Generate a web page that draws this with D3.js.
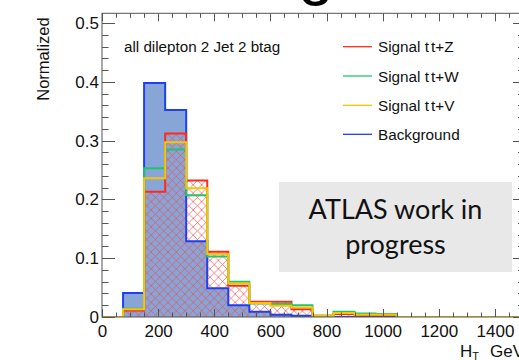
<!DOCTYPE html>
<html>
<head>
<meta charset="utf-8">
<script src="https://cdn.jsdelivr.net/npm/d3@7"></script>
<style>
  html, body { margin: 0; padding: 0; background: #ffffff; }
  svg { display: block; }
</style>
</head>
<body>
<svg id="chart" width="519" height="360"></svg>
<script>
// ---- data ----
const binLows = [0, 75, 150, 225, 300, 375, 450, 525, 600, 675, 750, 825, 900, 975, 1050, 1125, 1200, 1275, 1350, 1425];
const binWidth = 75;
const background = [0, 0.041, 0.398, 0.352, 0.129, 0.049, 0.020, 0.009, 0.004, 0.002, 0, 0, 0, 0, 0, 0, 0, 0, 0, 0];
const signalTTZ  = [0, 0.011, 0.213, 0.312, 0.232, 0.111, 0.053, 0.026, 0.026, 0.013, 0.002, 0.005, 0.003, 0.003, 0, 0, 0, 0, 0, 0];
const signalTTW  = [0, 0.014, 0.253, 0.285, 0.207, 0.103, 0.060, 0.023, 0.022, 0.020, 0.002, 0.009, 0.006, 0.005, 0, 0, 0, 0, 0, 0];
const signalTTV  = [0, 0.013, 0.236, 0.297, 0.219, 0.107, 0.057, 0.024, 0.019, 0.016, 0.002, 0.007, 0.004, 0.004, 0, 0, 0, 0, 0, 0];
const xTickLabels = [0, 200, 400, 600, 800, 1000, 1200, 1400];
const yTickLabels = [0, 0.1, 0.2, 0.3, 0.4, 0.5];
const legendLabels = [["Signal t", "t+Z"], ["Signal t", "t+W"], ["Signal t", "t+V"], ["Background", ""]];
const boxLines = ["ATLAS work in", "progress"];
const categoryText = "all dilepton 2 Jet 2 btag";

// ---- layout ----
const svg = d3.select("#chart");
const L = 102, R = 523, T = 13.3, B = 317;
const x = d3.scaleLinear().domain([0, 1500]).range([L, R]);
const y = d3.scaleLinear().domain([0, 0.5]).range([B, 23]);

const colors = { bg: "#1e3ff2", bgFill: "#88a5d8", z: "#ff2a1e", w: "#22c46a", v: "#f7c600" };

// cropped slide title descender at the top
svg.append("text").attr("x", 316).attr("y", -7).attr("text-anchor", "middle")
  .attr("font-family", "Liberation Sans, Arial, sans-serif").attr("font-size", 64)
  .attr("fill", "#000").text("g");

// hatch pattern
const defs = svg.append("defs");
const pat = defs.append("pattern").attr("id", "hatch").attr("patternUnits", "userSpaceOnUse")
  .attr("width", 8.4).attr("height", 8.4);
pat.append("path").attr("d", "M0,0L8.4,8.4M8.4,0L0,8.4M-1,7.4L1,9.4M7.4,-1L9.4,1")
  .attr("stroke", "#f24a4a").attr("stroke-opacity", 0.75).attr("stroke-width", 0.9).attr("fill", "none");
defs.append("clipPath").attr("id", "frameclip").append("rect")
  .attr("x", L).attr("y", T).attr("width", R - L).attr("height", B - T);

// step path helper
function stepPoints(vals) {
  const pts = [[binLows[0], 0]];
  vals.forEach((v, i) => {
    pts.push([binLows[i], v]);
    pts.push([binLows[i] + binWidth, v]);
  });
  pts.push([binLows[binLows.length - 1] + binWidth, 0]);
  return pts;
}
const line = d3.line().x(d => x(d[0])).y(d => y(d[1]));
const area = d3.area().x(d => x(d[0])).y0(y(0)).y1(d => y(d[1]));

const g = svg.append("g").attr("clip-path", "url(#frameclip)");
g.append("path").attr("d", area(stepPoints(background))).attr("fill", colors.bgFill);
g.append("path").attr("d", area(stepPoints(signalTTZ))).attr("fill", "url(#hatch)");
const outlines = [[background, colors.bg], [signalTTZ, colors.z], [signalTTW, colors.w], [signalTTV, colors.v]];
outlines.forEach(([vals, c]) => {
  g.append("path").attr("d", line(stepPoints(vals))).attr("fill", "none")
    .attr("stroke", c).attr("stroke-width", 2).attr("stroke-linejoin", "miter");
});

// frame
const axisColor = "#555";
svg.append("rect").attr("x", L).attr("y", T).attr("width", R - L).attr("height", B - T)
  .attr("fill", "none").attr("stroke", axisColor).attr("stroke-width", 1);

// x ticks (bottom and top)
d3.range(0, 1501, 50).forEach(v => {
  const major = v % 200 === 0;
  const len = major ? 8 : 4.5;
  const px = Math.round(x(v)) + 0.5;
  svg.append("line").attr("x1", px).attr("x2", px).attr("y1", B).attr("y2", B - len)
    .attr("stroke", axisColor).attr("stroke-width", 1);
  svg.append("line").attr("x1", px).attr("x2", px).attr("y1", T).attr("y2", T + len)
    .attr("stroke", axisColor).attr("stroke-width", 1);
});
// y ticks (left and right)
d3.range(0, 0.5001, 0.02).forEach(v => {
  const major = Math.abs(v * 10 - Math.round(v * 10)) < 1e-6;
  const py = Math.round(y(v)) + 0.5;
  svg.append("line").attr("x1", L).attr("x2", L + (major ? 13 : 6.5)).attr("y1", py).attr("y2", py)
    .attr("stroke", axisColor).attr("stroke-width", 1);
  svg.append("line").attr("x1", R).attr("x2", R - (major ? 10 : 5)).attr("y1", py).attr("y2", py)
    .attr("stroke", axisColor).attr("stroke-width", 1);
});

// tick labels via d3 axes (ticks hidden)
const fontFam = "Liberation Sans, Arial, Helvetica, sans-serif";
const xAxis = svg.append("g").attr("transform", `translate(0,${B})`)
  .call(d3.axisBottom(x).tickValues(xTickLabels).tickSize(0).tickPadding(8).tickFormat(d3.format("d")));
xAxis.select(".domain").remove();
xAxis.selectAll("text").attr("font-family", fontFam).attr("font-size", 17).attr("fill", "#111");

const yAxis = svg.append("g").attr("transform", `translate(${L},0)`)
  .call(d3.axisLeft(y).tickValues(yTickLabels).tickSize(0).tickPadding(3).tickFormat(d => d === 0 ? "0" : d3.format(".1f")(d)));
yAxis.select(".domain").remove();
yAxis.selectAll("text").attr("font-family", fontFam).attr("font-size", 17).attr("fill", "#111");

// axis titles
svg.append("text").attr("transform", "translate(49,59) rotate(-90)").attr("text-anchor", "middle")
  .attr("font-family", fontFam).attr("font-size", 16.5).attr("fill", "#111").text("Normalized");
const xt = svg.append("text").attr("y", 357).attr("font-family", fontFam)
  .attr("font-size", 17).attr("fill", "#111");
xt.append("tspan").attr("x", 460).text("H");
xt.append("tspan").attr("font-size", 11).attr("dy", 3).text("T");
xt.append("tspan").attr("x", 490).attr("dy", -3).text("GeV");

// category text
svg.append("text").attr("x", 124).attr("y", 52).attr("font-family", fontFam)
  .attr("font-size", 15.2).attr("fill", "#111").text(categoryText);

// legend
const legColors = [colors.z, colors.w, colors.v, colors.bg];
const legY = [46.7, 76, 105.3, 134.3];
legendLabels.forEach((lab, i) => {
  svg.append("line").attr("x1", 343).attr("x2", 372).attr("y1", legY[i]).attr("y2", legY[i])
    .attr("stroke", legColors[i]).attr("stroke-width", 1.3);
  const t = svg.append("text").attr("x", 378).attr("y", legY[i] + 5.5).attr("font-family", fontFam)
    .attr("font-size", 15.3).attr("fill", "#111");
  t.append("tspan").text(lab[0]);
  if (lab[1]) t.append("tspan").attr("dx", 2).text(lab[1]);
});

// ATLAS box
svg.append("rect").attr("x", 279).attr("y", 182).attr("width", 233).attr("height", 90).attr("fill", "#e8e8e8");
boxLines.forEach((t, i) => {
  svg.append("text").attr("x", 395.5).attr("y", 218.5 + i * 35.5).attr("text-anchor", "middle")
    .attr("font-family", "Lato, 'Open Sans', sans-serif").attr("font-size", 27).attr("fill", "#111").text(t);
});
</script>
</body>
</html>
